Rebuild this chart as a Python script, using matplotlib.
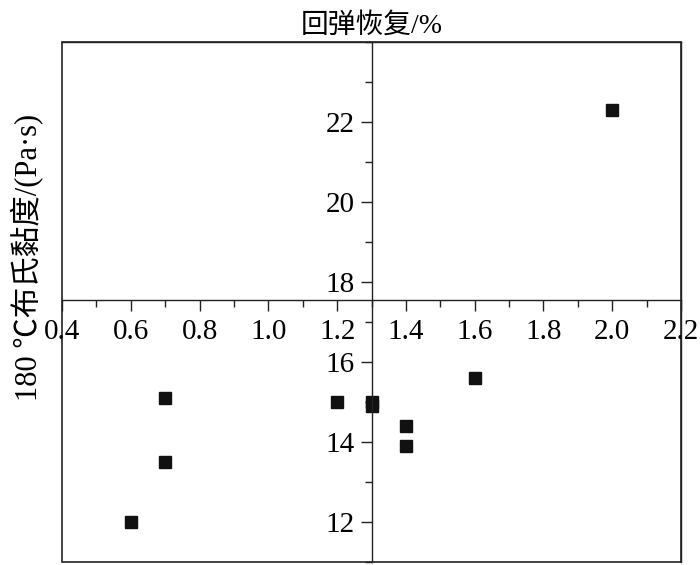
import matplotlib
matplotlib.use("Agg")
import matplotlib.pyplot as plt
from matplotlib.patches import Rectangle
from matplotlib.ticker import MultipleLocator

plt.rcParams["font.family"] = ["Liberation Serif", "Noto Sans CJK SC", "DejaVu Sans"]

RECOVERY = [0.6, 0.7, 0.7, 1.2, 1.3, 1.3, 1.4, 1.4, 1.6, 2.0]
VISCOSITY = [12.0, 15.1, 13.5, 15.0, 15.0, 14.9, 14.4, 13.9, 15.6, 22.3]

X_TICKS = [0.4, 0.6, 0.8, 1.0, 1.2, 1.4, 1.6, 1.8, 2.0, 2.2]
X_TICK_LABELS = ["0.4", "0.6", "0.8", "1.0", "1.2", "1.4", "1.6", "1.8", "2.0", "2.2"]
Y_TICKS = [12, 14, 16, 18, 20, 22]

X_LABEL = "回弹恢复/%"
Y_LABEL = "180 ℃布氏黏度/(Pa·s)"


def main() -> None:
    fig = plt.figure(figsize=(7.0, 5.65), dpi=100)
    ax = fig.add_axes([0.0886, 0.0053, 0.8843, 0.9204])

    ax.plot(RECOVERY, VISCOSITY, "s", color="#111111", ms=8, clip_on=False)

    ax.set_xlim(0.4, 2.2)
    ax.set_ylim(11, 24)

    # cross-shaped axes through the middle of the box
    ax.spines["left"].set_position(("data", 1.3))
    ax.spines["bottom"].set_position(("data", 17.55))
    for s in ax.spines.values():
        s.set_linewidth(1.0)
        s.set_color("#222222")
    ax.add_patch(Rectangle((0, 0), 1, 1, transform=ax.transAxes, fill=False,
                           lw=1.2, ec="#222222", clip_on=False))

    ax.set_xticks(X_TICKS, X_TICK_LABELS)
    ax.set_yticks(Y_TICKS)
    ax.xaxis.set_minor_locator(MultipleLocator(0.1))
    ax.yaxis.set_minor_locator(MultipleLocator(1))
    ax.tick_params(which="major", direction="out", length=8, width=1.0,
                   labelsize=21, pad=4, color="#222222")
    ax.tick_params(axis="x", which="major", pad=6)
    ax.tick_params(which="minor", direction="out", length=5, width=1.0,
                   color="#222222")

    ax.set_title(X_LABEL, fontsize=20, pad=7)
    ax.set_ylabel(Y_LABEL, fontsize=22)
    ax.yaxis.set_label_coords(-0.03, 0.585)

    fig.savefig("out.png", dpi=100)


if __name__ == "__main__":
    main()
